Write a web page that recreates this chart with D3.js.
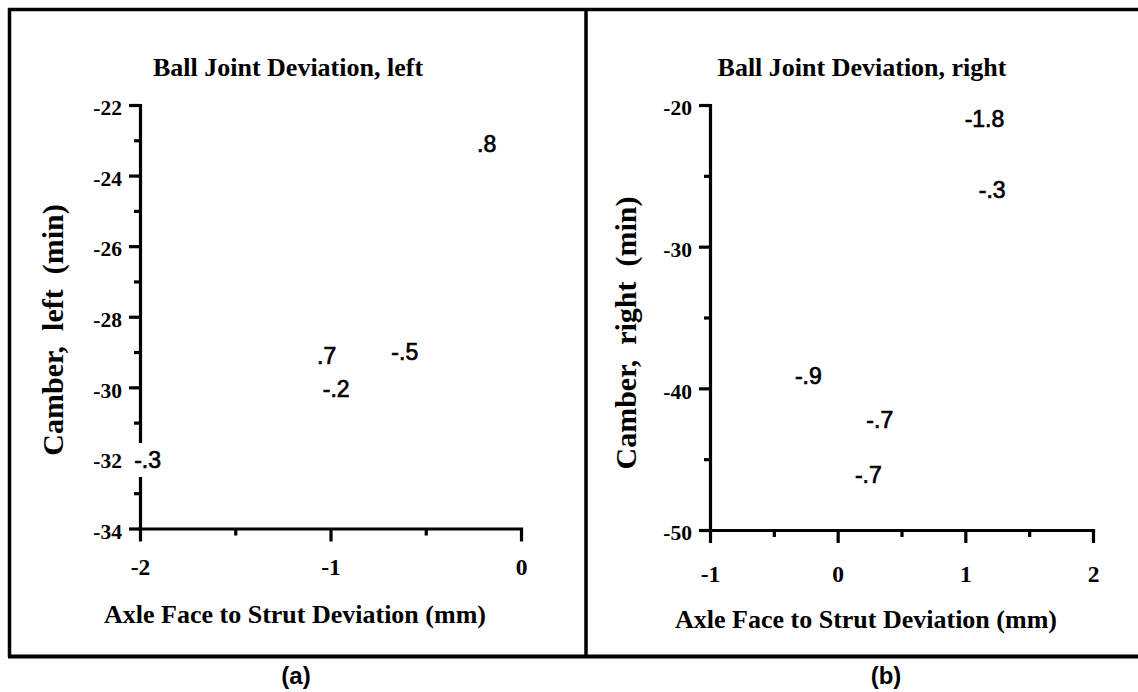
<!DOCTYPE html>
<html>
<head>
<meta charset="utf-8">
<script src="https://cdn.jsdelivr.net/npm/d3@7"></script>
<style>
  body { margin: 0; background: #fff; }
  svg { display: block; }
</style>
</head>
<body>
<div id="chart"></div>
<script>
// Data

// (a) left
const leftX = [-0.18, -1.02, -0.61, -0.97, -1.96];
const leftY = [-23.1, -29.1, -29.0, -30.05, -32.05];
const leftLabels = [".8", ".7", "-.5", "-.2", "-.3"];
const leftXTicks = [-2, -1, 0];
const leftYTicks = [-22, -24, -26, -28, -30, -32, -34];

// (b) right
const rightX = [1.15, 1.21, -0.23, 0.33, 0.24];
const rightY = [-21.0, -26.0, -39.1, -42.2, -46.1];
const rightLabels = ["-1.8", "-.3", "-.9", "-.7", "-.7"];
const rightXTicks = [-1, 0, 1, 2];
const rightYTicks = [-20, -30, -40, -50];

const SERIF = "'Liberation Serif', 'Times New Roman', Times, serif";
const SANS = "'Liberation Sans', Arial, Helvetica, sans-serif";

// Container
const width = 1138;
const height = 692;

const svg = d3
  .select("#chart")
  .append("svg")
  .attr("width", width)
  .attr("height", height)
  .style("background", "#fff");

// frame round the two panels (no right edge, cut off in the scan)
const frame = svg.append("g").attr("fill", "none").attr("stroke", "#000");
frame.append("line").attr("x1", 8).attr("x2", width).attr("y1", 9.5).attr("y2", 9.5).attr("stroke-width", 3.5);
frame.append("line").attr("x1", 9.5).attr("x2", 9.5).attr("y1", 8).attr("y2", 657).attr("stroke-width", 3.5);
frame.append("line").attr("x1", 8).attr("x2", width).attr("y1", 656.5).attr("y2", 656.5).attr("stroke-width", 4);
frame.append("line").attr("x1", 586).attr("x2", 586).attr("y1", 9).attr("y2", 656).attr("stroke-width", 3.5);

// midpoints between major ticks -> minor ticks
const minorTicks = (ticks) => {
  const s = ticks.slice().sort((a, b) => a - b);
  return s.slice(1).map((d, i) => (d + s[i]) / 2);
};

const styleAxis = (g) => {
  g.select(".domain").attr("stroke-width", 3.2).attr("stroke-linecap", "square");
  g.selectAll(".tick line").attr("stroke-width", 3.2);
};

// One panel
const drawPanel = (cfg) => {
  const g = svg.append("g");

  const x = d3.scaleLinear().domain(d3.extent(cfg.xTicks)).range([cfg.left, cfg.right]);
  const y = d3.scaleLinear().domain(d3.extent(cfg.yTicks)).range([cfg.bottom, cfg.top]);

  // minor ticks first
  g.append("g")
    .attr("transform", "translate(" + cfg.left + ",0)")
    .call(d3.axisLeft(y).tickValues(minorTicks(cfg.yTicks)).tickSize(6).tickFormat(""))
    .call((a) => a.select(".domain").remove())
    .call(styleAxis);
  g.append("g")
    .attr("transform", "translate(0," + cfg.bottom + ")")
    .call(d3.axisBottom(x).tickValues(minorTicks(cfg.xTicks)).tickSize(7).tickFormat(""))
    .call((a) => a.select(".domain").remove())
    .call(styleAxis);

  // major y axis
  const yAx = g
    .append("g")
    .attr("transform", "translate(" + cfg.left + ",0)")
    .call(
      d3.axisLeft(y).tickValues(cfg.yTicks).tickSize(11).tickSizeOuter(0).tickPadding(7)
        .tickFormat((d) => String(d))
    )
    .call(styleAxis);
  yAx.selectAll("text")
    .attr("dy", "0.45em")
    .style("font-family", SERIF)
    .style("font-size", "21.5px")
    .style("font-weight", "bold")
    .attr("fill", "#000");

  // major x axis
  const xAx = g
    .append("g")
    .attr("transform", "translate(0," + cfg.bottom + ")")
    .call(
      d3.axisBottom(x).tickValues(cfg.xTicks).tickSize(13).tickSizeOuter(0)
        .tickFormat((d) => String(d))
    )
    .call(styleAxis);
  xAx.selectAll("text")
    .attr("y", cfg.xTickLabelY)
    .attr("dy", "0")
    .style("font-family", SERIF)
    .style("font-size", "23.5px")
    .style("font-weight", "bold")
    .attr("fill", "#000");

  // title
  g.append("text")
    .attr("x", cfg.titleX)
    .attr("y", 76)
    .attr("text-anchor", "middle")
    .style("font-family", SERIF)
    .style("font-size", "26px")
    .style("font-weight", "bold")
    .text(cfg.title);

  // x label
  g.append("text")
    .attr("x", cfg.xLabelX)
    .attr("y", cfg.xLabelY)
    .attr("text-anchor", "middle")
    .style("font-family", SERIF)
    .style("font-size", "26px")
    .style("font-weight", "bold")
    .text("Axle Face to Strut Deviation (mm)");

  // y label
  g.append("text")
    .attr("transform", "translate(" + cfg.yLabelX + "," + cfg.yLabelY + ") rotate(-90)")
    .attr("text-anchor", "middle")
    .style("font-family", SERIF)
    .style("font-size", "30px")
    .style("font-weight", "bold")
    .style("white-space", "pre")
    .text(cfg.yLabel);

  // points are drawn as their labels, on a white patch
  const pts = cfg.xs.map((d, i) => ({ x: d, y: cfg.ys[i], label: cfg.labels[i] }));
  const node = g.selectAll("g.pt").data(pts).join("g").attr("class", "pt");
  node
    .append("text")
    .attr("x", (d) => x(d.x))
    .attr("y", (d) => y(d.y))
    .attr("dy", "0.36em")
    .attr("text-anchor", "middle")
    .style("font-family", SANS)
    .style("font-size", "23px")
    .attr("fill", "#000")
    .attr("stroke", "#000")
    .attr("stroke-width", 0.7)
    .text((d) => d.label);
  node.each(function () {
    const b = d3.select(this).select("text").node().getBBox();
    d3.select(this)
      .insert("rect", "text")
      .attr("x", b.x - 7)
      .attr("y", b.y - 4)
      .attr("width", b.width + 10)
      .attr("height", b.height + 8)
      .attr("fill", "#fff");
  });

  // caption
  svg.append("text")
    .attr("x", cfg.captionX)
    .attr("y", 684)
    .attr("text-anchor", "middle")
    .style("font-family", "'Liberation Sans Narrow', 'Arial Narrow', " + SANS)
    .style("font-size", "24px")
    .style("font-weight", "bold")
    .text(cfg.caption);
};

drawPanel({
  xs: leftX, ys: leftY, labels: leftLabels,
  xTicks: leftXTicks, yTicks: leftYTicks,
  left: 140, right: 521, top: 105, bottom: 528.5,
  xTickLabelY: 46,
  title: "Ball Joint Deviation, left", titleX: 288,
  xLabelX: 295, xLabelY: 623,
  yLabel: "Camber,  left  (min)", yLabelX: 63, yLabelY: 330,
  caption: "(a)", captionX: 296,
});

drawPanel({
  xs: rightX, ys: rightY, labels: rightLabels,
  xTicks: rightXTicks, yTicks: rightYTicks,
  left: 710, right: 1093, top: 105, bottom: 530,
  xTickLabelY: 52,
  title: "Ball Joint Deviation, right", titleX: 862,
  xLabelX: 866, xLabelY: 628,
  yLabel: "Camber,  right  (min)", yLabelX: 636, yLabelY: 333,
  caption: "(b)", captionX: 886,
});
</script>
</body>
</html>
